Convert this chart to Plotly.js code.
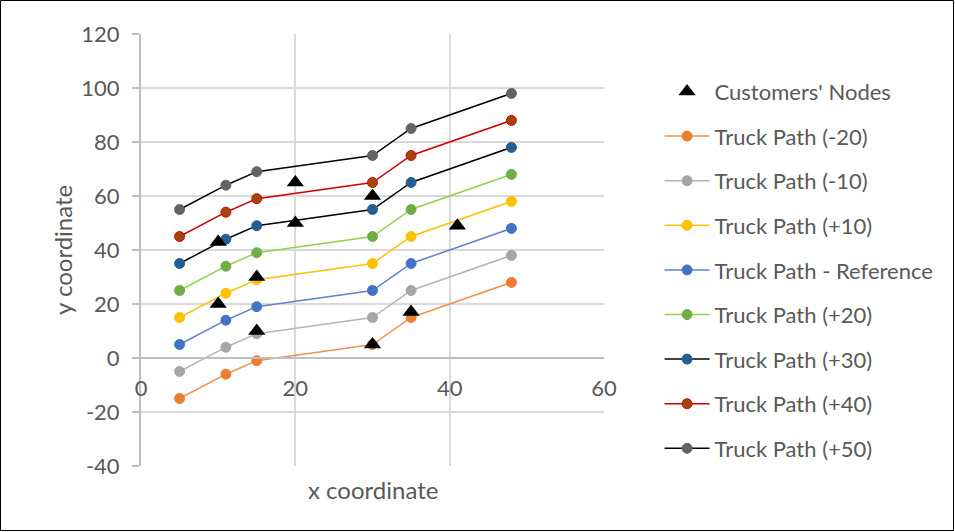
<!DOCTYPE html>
<html><head><meta charset="utf-8">
<script src="https://cdn.plot.ly/plotly-3.0.1.min.js"></script>
<style>html,body{margin:0;padding:0;background:#fff}#chart{width:955px;height:532px}</style>
</head><body><div id="chart"></div>
<script>
const pathX = [5, 11, 15, 30, 35, 48];
const yMinus20 = [-15, -6, -1, 5, 15, 28];
const yMinus10 = [-5, 4, 9, 15, 25, 38];
const yPlus10 = [15, 24, 29, 35, 45, 58];
const yReference = [5, 14, 19, 25, 35, 48];
const yPlus20 = [25, 34, 39, 45, 55, 68];
const yPlus30 = [35, 44, 49, 55, 65, 78];
const yPlus40 = [45, 54, 59, 65, 75, 88];
const yPlus50 = [55, 64, 69, 75, 85, 98];
const customerX = [10, 10, 15, 15, 20, 20, 30, 30, 35, 41];
const customerY = [20, 43, 10, 30, 50, 65, 60, 5, 17, 49];
const xTicks = [0, 20, 40, 60];
const yTicks = [-40, -20, 0, 20, 40, 60, 80, 100, 120];

const FONT = 'Lato, "Open Sans", sans-serif';
function path(name, y, line, fill, outline, rank) {
  return {x: pathX, y: y, name: name, type: 'scatter', mode: 'lines+markers',
    line: {color: line, width: 1.5},
    marker: {color: fill, size: 10, line: {color: outline, width: 1}},
    legendgroup: name, legendrank: rank};
}
const traces = [
  path('Truck Path (-20)', yMinus20, '#F4904F', '#ED7D31', '#ED7D31', 2),
  path('Truck Path (-10)', yMinus10, '#B4B4B4', '#A5A5A5', '#A5A5A5', 3),
  path('Truck Path (+10)', yPlus10, '#FFC000', '#FFC000', '#FFC000', 4),
  path('Truck Path - Reference', yReference, '#5B84D0', '#4472C4', '#4472C4', 5),
  path('Truck Path (+20)', yPlus20, '#92D050', '#70AD47', '#70AD47', 6),
  path('Truck Path (+30)', yPlus30, '#000000', '#255E91', '#255E91', 7),
  path('Truck Path (+40)', yPlus40, '#D00000', '#9E480E', '#E00000', 8),
  path('Truck Path (+50)', yPlus50, '#000000', '#636363', '#636363', 9),
  {x: customerX, y: customerY, name: "Customers' Nodes", type: 'scatter', mode: 'markers',
   marker: {symbol: 'triangle-up', color: '#000000', size: 15}, legendgroup: 'c', legendrank: 1}
];
const layout = {
  width: 955, height: 532,
  margin: {l: 141, r: 351, t: 34, b: 66},
  paper_bgcolor: '#fff', plot_bgcolor: '#fff',
  font: {family: FONT, size: 22, color: '#595959'},
  xaxis: {range: [0, 60], tickvals: xTicks, ticktext: xTicks.map(String),
    showgrid: true, gridcolor: '#D9D9D9', gridwidth: 2,
    zeroline: false, showline: true, linecolor: '#BFBFBF', linewidth: 2,
    anchor: 'free', position: 0.25, ticks: '', ticklabelstandoff: 11,
    tickfont: {family: FONT, size: 22, color: '#595959'}},
  yaxis: {range: [-40, 120], tickvals: yTicks, ticktext: yTicks.map(String),
    showgrid: true, gridcolor: '#D9D9D9', gridwidth: 2,
    zeroline: false, showline: true, linecolor: '#BFBFBF', linewidth: 2,
    ticks: 'outside', ticklen: 7, tickcolor: '#BFBFBF', tickwidth: 2, ticklabelstandoff: 8,
    tickfont: {family: FONT, size: 22, color: '#595959'}},
  showlegend: true,
  legend: {x: 1.12, xanchor: 'left', y: 0.915, yanchor: 'top',
    font: {family: FONT, size: 22, color: '#595959'},
    tracegroupgap: 13, itemwidth: 45, bgcolor: 'rgba(0,0,0,0)'},
  annotations: [
    {text: 'x coordinate', xref: 'paper', yref: 'paper', x: 0.5, y: (466 - 489) / 432,
     showarrow: false, xanchor: 'center', yanchor: 'middle', font: {family: FONT, size: 24, color: '#595959'}},
    {text: 'y coordinate', xref: 'paper', yref: 'paper', x: (62 - 141) / 463, y: 0.5, textangle: -90,
     showarrow: false, xanchor: 'center', yanchor: 'middle', font: {family: FONT, size: 24, color: '#595959'}}
  ],
  shapes: [
    {type: 'line', xref: 'paper', yref: 'y', x0: 0, x1: 1, y0: 0, y1: 0, line: {color: '#BFBFBF', width: 2}, layer: 'below'},
    {type: 'rect', xref: 'paper', yref: 'paper', x0: (0.5 - 141) / 463, x1: (953.5 - 141) / 463,
     y0: (466 - 530.5) / 432, y1: (466 - 0.5) / 432, line: {color: '#000', width: 1}, fillcolor: 'rgba(0,0,0,0)'}
  ]
};
Plotly.newPlot('chart', traces, layout, {displayModeBar: false, staticPlot: true});
</script></body></html>
